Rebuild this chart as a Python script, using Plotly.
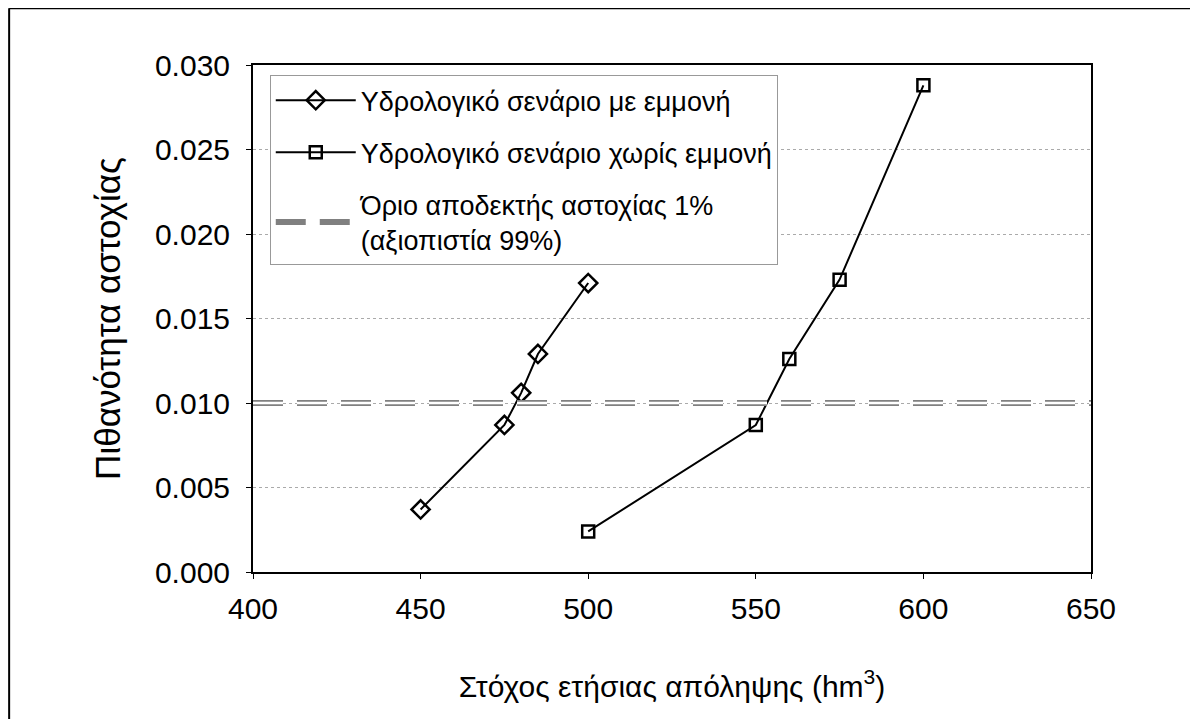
import plotly.graph_objects as go

x_persist = [450, 475, 480, 485, 500]
p_persist = [0.0037, 0.0087, 0.0106, 0.0129, 0.0171]

x_nopersist = [500, 550, 560, 575, 600]
p_nopersist = [0.0024, 0.0087, 0.0126, 0.0173, 0.0288]

limit_x = [400, 650]
limit_p = [0.010, 0.010]

x_ticks = [400, 450, 500, 550, 600, 650]
y_ticks = [0.000, 0.005, 0.010, 0.015, 0.020, 0.025, 0.030]

font_family = "Liberation Sans, Arial, sans-serif"

fig = go.Figure()

fig.add_trace(
    go.Scatter(
        x=x_persist,
        y=p_persist,
        mode="lines+markers",
        name="Υδρολογικό σενάριο με εμμονή",
        line=dict(color="black", width=2),
        marker=dict(symbol="diamond-open", size=14, color="black", line=dict(width=2.5)),
    )
)

fig.add_trace(
    go.Scatter(
        x=x_nopersist,
        y=p_nopersist,
        mode="lines+markers",
        name="Υδρολογικό σενάριο χωρίς εμμονή",
        line=dict(color="black", width=2),
        marker=dict(symbol="square-open", size=12, color="black", line=dict(width=2.5)),
    )
)

# hollow-looking dashed limit line: grey dash with a white core
fig.add_trace(
    go.Scatter(
        x=limit_x,
        y=limit_p,
        mode="lines",
        name="Όριο αποδεκτής αστοχίας 1%<br>(αξιοπιστία 99%)",
        legendgroup="limit",
        line=dict(color="#808080", width=6, dash="30px,14px"),
    )
)
fig.add_trace(
    go.Scatter(
        x=limit_x,
        y=limit_p,
        mode="lines",
        legendgroup="limit",
        showlegend=False,
        hoverinfo="skip",
        line=dict(color="white", width=2.5, dash="30px,14px"),
    )
)

# sized so the page (with its 8px body margin) shows no scrollbars
fig.update_layout(
    width=1182,
    height=711,
    margin=dict(l=245, r=99, t=57, b=147),
    paper_bgcolor="white",
    plot_bgcolor="white",
    font=dict(family=font_family, size=27, color="black"),
    showlegend=True,
    legend=dict(
        x=0.02,
        y=0.98,
        xanchor="left",
        yanchor="top",
        bgcolor="white",
        bordercolor="#999999",
        borderwidth=1,
        font=dict(size=27),
        tracegroupgap=14,
        itemwidth=80,
    ),
    xaxis=dict(
        range=[400, 650],
        tickvals=x_ticks,
        ticktext=[str(v) for v in x_ticks],
        tickfont=dict(size=30),
        showgrid=False,
        zeroline=False,
        showline=True,
        linecolor="black",
        linewidth=2,
        mirror=True,
        ticks="outside",
        ticklen=5,
        tickcolor="black",
        ticklabelstandoff=4,
        title=dict(text="Στόχος ετήσιας απόληψης (hm<sup>3</sup>)", font=dict(size=30), standoff=52),
    ),
    yaxis=dict(
        range=[0, 0.030],
        tickvals=y_ticks,
        ticktext=[f"{v:.3f}" for v in y_ticks],
        tickfont=dict(size=30),
        showgrid=True,
        gridcolor="#aaaaaa",
        griddash="dot",
        gridwidth=1,
        zeroline=False,
        showline=True,
        linecolor="black",
        linewidth=2,
        mirror=True,
        ticks="outside",
        ticklen=5,
        tickcolor="black",
        ticklabelstandoff=10,
        title=dict(text="Πιθανότητα αστοχίας", font=dict(size=35), standoff=24),
    ),
    shapes=[
        # outer frame of the scanned page (top and left edges)
        dict(type="line", xref="paper", yref="paper",
             x0=-0.291, x1=1.2, y0=1.112, y1=1.112,
             line=dict(color="black", width=2)),
        dict(type="line", xref="paper", yref="paper",
             x0=-0.291, x1=-0.291, y0=1.112, y1=-0.4,
             line=dict(color="black", width=2)),
    ],
)

fig.write_html("out.html")
